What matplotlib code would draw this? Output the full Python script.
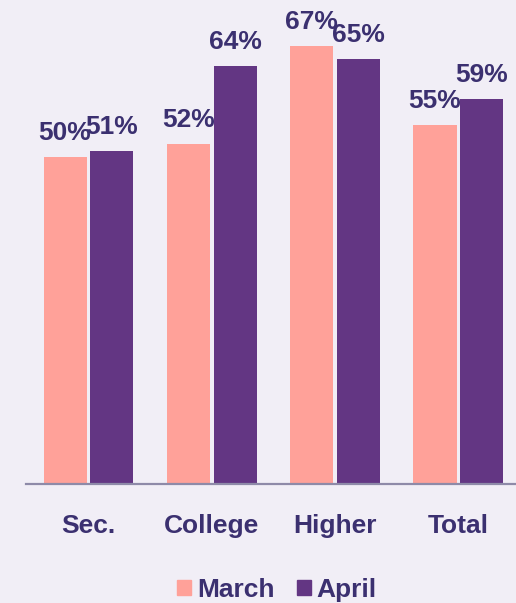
import matplotlib
matplotlib.use('Agg')
import matplotlib.pyplot as plt
import matplotlib.patches as mpatches
import numpy as np

# data
categories = ['Sec.', 'College', 'Higher', 'Total']
march = [50, 52, 67, 55]
april = [51, 64, 65, 59]

# colours
BG = '#F1EEF6'
C_MARCH = '#FFA199'
C_APRIL = '#633683'
TXT = '#3B3070'

plt.rcParams['font.family'] = ['Liberation Sans', 'DejaVu Sans']
plt.rcParams['font.weight'] = 'bold'

fig = plt.figure(figsize=(5.16, 6.03), dpi=100, facecolor=BG)
ax = fig.add_axes([26/516, 119/603, 490/516, 484/603])
ax.set_facecolor(BG)

x = np.arange(len(categories))
w = 0.349
off = 0.19
b1 = ax.bar(x - off, march, w, color=C_MARCH, label='March')
b2 = ax.bar(x + off, april, w, color=C_APRIL, label='April')

for bars, vals in ((b1, march), (b2, april)):
    for r, v in zip(bars, vals):
        ax.annotate('%d%%' % v, (r.get_x() + r.get_width() / 2, v),
                    xytext=(0, 12.2), textcoords='offset points',
                    ha='center', va='baseline', fontsize=19,
                    fontweight='bold', color=TXT)

for xi, lab in zip(x, categories):
    ax.text(xi, -0.101, lab, transform=ax.get_xaxis_transform(),
            ha='center', va='baseline', fontsize=19, fontweight='bold',
            color=TXT)

ax.set_xlim(-0.507, 3.467)
ax.set_ylim(0, 74.1)
ax.set_xticks([])
ax.set_yticks([])
for s in ('top', 'right', 'left'):
    ax.spines[s].set_visible(False)
ax.spines['bottom'].set_color('#8E8AA8')
ax.spines['bottom'].set_linewidth(1.6)

handles = [mpatches.Patch(color=C_MARCH, label='March'),
           mpatches.Patch(color=C_APRIL, label='April')]
leg = fig.legend(handles=handles, loc='center', ncol=2, frameon=False,
                 bbox_to_anchor=(277/516, 1 - 590/603),
                 prop={'size': 19, 'weight': 'bold'},
                 handlelength=0.53, handleheight=0.53,
                 handletextpad=0.23, columnspacing=0.83,
                 borderaxespad=0, borderpad=0)
for t in leg.get_texts():
    t.set_color(TXT)

fig.savefig('out.png', dpi=100, facecolor=BG)
